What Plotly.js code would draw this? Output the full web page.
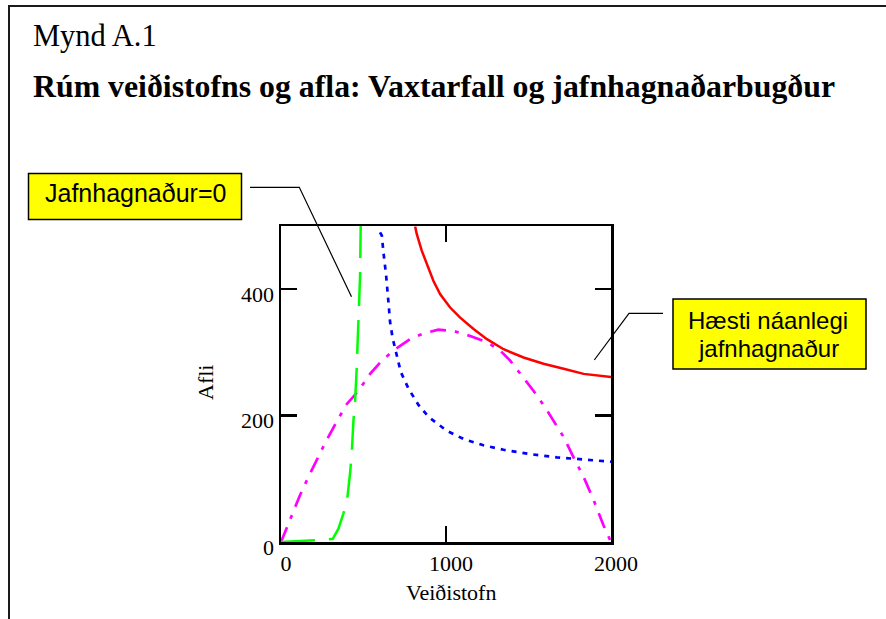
<!DOCTYPE html>
<html>
<head>
<meta charset="utf-8">
<script src="https://cdn.plot.ly/plotly-3.0.1.min.js"></script>
<style>
  html, body { margin: 0; padding: 0; background: #ffffff; }
  #chart { width: 886px; height: 619px; }
</style>
</head>
<body>
<div id="chart"></div>
<script>
// ---- Data ----
// Vaxtarfall (growth function), magenta dash-dot
const growthStock = [0, 24, 65, 115, 166, 218, 272, 330, 398, 469, 540, 611, 692, 783, 863, 954, 1045, 1147, 1248, 1328, 1389, 1460, 1531, 1601, 1662, 1713, 1773, 1834, 1895, 1955, 2000];
const growthCatch = [0, 16, 42, 74, 103, 131, 159, 187, 218, 239, 266, 287, 305, 321, 330, 336, 334, 326, 316, 303, 287, 263, 239, 213, 187, 166, 134, 103, 66, 26, 0];

// Jafnhagnaður=0 (zero-profit curve), green long dash
const zeroStock = [0, 100, 226, 314, 348, 378, 400, 419, 429, 439, 449, 458, 466, 474, 479, 483];
const zeroCatch = [0, 1, 3, 5, 21, 45, 65, 110, 142, 192, 223, 270, 320, 370, 420, 500];

// Intermediate profit curve, blue dotted
const midStock = [600, 611, 621, 637, 651, 661, 677, 702, 726, 772, 833, 894, 1005, 1106, 1227, 1349, 1510, 1672, 1834, 2000];
const midCatch = [490, 485, 458, 422, 380, 348, 322, 296, 269, 243, 217, 198, 176, 163, 153, 146, 139, 134, 130, 127];

// Hæsti náanlegi jafnhagnaður (highest attainable), red solid
const maxStock = [813, 823, 853, 884, 924, 965, 1025, 1086, 1167, 1248, 1349, 1470, 1591, 1713, 1834, 2000];
const maxCatch = [499, 487, 461, 439, 413, 392, 371, 355, 337, 321, 305, 292, 282, 274, 266, 261];

// Axis ticks and texts
const xTickVals = [0, 1000, 2000];
const xTickText = ['0', '1000', '2000'];
const yTickVals = [0, 200, 400];
const yTickText = ['0', '200', '400'];
const figureLabel = 'Mynd A.1';
const chartTitle = 'Rúm veiðistofns og afla: Vaxtarfall og jafnhagnaðarbugður';
const xTitle = 'Veiðistofn';
const yTitle = 'Afli';
const zeroLabel = 'Jafnhagnaður=0';
const maxLabelLines = ['Hæsti náanlegi', 'jafnhagnaður'];

// ---- Layout helpers (pixel -> paper) ----
const L = 281, T = 226, W = 330, H = 316;
const FW = 886, FH = 619;
function px(x) { return (x - L) / W; }
function py(y) { return (T + H - y) / H; }

const serif = 'Liberation Serif, Times New Roman, serif';
const sans = 'Liberation Sans, Arial, sans-serif';

const traces = [
  { x: growthStock, y: growthCatch, type: 'scatter', mode: 'lines',
    line: { color: '#ff00ff', width: 2.7, dash: '16px,9px,4px,9px' }, hoverinfo: 'skip' },
  { x: midStock, y: midCatch, type: 'scatter', mode: 'lines',
    line: { color: '#0000ff', width: 2.7, dash: '5px,6px' }, hoverinfo: 'skip' },
  { x: maxStock, y: maxCatch, type: 'scatter', mode: 'lines',
    line: { color: '#ff0000', width: 2.5 }, hoverinfo: 'skip' },
  { x: zeroStock, y: zeroCatch, type: 'scatter', mode: 'lines',
    line: { color: '#00ff00', width: 2.5, dash: '34px,14px' }, hoverinfo: 'skip' }
];

const axisCommon = {
  showgrid: false, zeroline: false,
  showline: true, linecolor: '#000000', linewidth: 2.5, mirror: 'ticks',
  ticks: 'inside', ticklen: 16, tickwidth: 2.5, tickcolor: '#000000',
  tickfont: { family: serif, size: 22, color: '#000000' },
  fixedrange: true
};

const layout = {
  width: FW, height: FH,
  margin: { l: L, r: FW - L - W, t: T, b: FH - T - H, pad: 0 },
  paper_bgcolor: '#ffffff', plot_bgcolor: '#ffffff',
  showlegend: false,
  xaxis: Object.assign({}, axisCommon, {
    range: [0, 2000], tickvals: xTickVals, ticktext: xTickText,
    ticklabelshift: 5
  }),
  yaxis: Object.assign({}, axisCommon, {
    range: [0, 500], tickvals: yTickVals, ticktext: yTickText,
    ticklabelshift: 5
  }),
  shapes: [
    // outer figure frame
    { type: 'rect', xref: 'paper', yref: 'paper', x0: px(9), y0: py(6), x1: px(1000), y1: py(800),
      line: { color: '#1a1a1a', width: 2 }, fillcolor: 'rgba(0,0,0,0)', layer: 'below' },
    // label box 1
    { type: 'rect', xref: 'paper', yref: 'paper', x0: px(28.5), y0: py(173.5), x1: px(241.5), y1: py(219.5),
      line: { color: '#000000', width: 1.5 }, fillcolor: '#ffff00', layer: 'above' },
    // label box 2
    { type: 'rect', xref: 'paper', yref: 'paper', x0: px(673), y0: py(299), x1: px(866), y1: py(369),
      line: { color: '#000000', width: 1.5 }, fillcolor: '#ffff00', layer: 'above' },
    // leader 1
    { type: 'path', xref: 'paper', yref: 'paper',
      path: 'M ' + px(250) + ',' + py(187.3) + ' L ' + px(299.3) + ',' + py(187.3) + ' L ' + px(351.5) + ',' + py(296.7),
      line: { color: '#000000', width: 1.2 }, layer: 'above' },
    // leader 2
    { type: 'path', xref: 'paper', yref: 'paper',
      path: 'M ' + px(663) + ',' + py(313.3) + ' L ' + px(629) + ',' + py(313.3) + ' L ' + px(594.3) + ',' + py(360),
      line: { color: '#000000', width: 1.2 }, layer: 'above' }
  ],
  annotations: [
    { text: figureLabel, xref: 'paper', yref: 'paper', x: px(31), y: py(36), xanchor: 'left', yanchor: 'middle',
      showarrow: false, font: { family: serif, size: 30.5, color: '#000000' } },
    { text: '<b>' + chartTitle + '</b>', xref: 'paper', yref: 'paper', x: px(31), y: py(86.5), xanchor: 'left', yanchor: 'middle',
      showarrow: false, font: { family: serif, size: 31.8, color: '#000000' } },
    { text: xTitle, xref: 'paper', yref: 'paper', x: px(451), y: py(592), xanchor: 'center', yanchor: 'middle',
      showarrow: false, font: { family: serif, size: 22, color: '#000000' } },
    { text: yTitle, xref: 'paper', yref: 'paper', x: px(205), y: py(383), xanchor: 'center', yanchor: 'middle',
      textangle: -90, showarrow: false, font: { family: serif, size: 22, color: '#000000' } },
    { text: zeroLabel, xref: 'paper', yref: 'paper', x: px(135), y: py(192.5), xanchor: 'center', yanchor: 'middle',
      showarrow: false, font: { family: sans, size: 25, color: '#000000' } },
    { text: maxLabelLines[0], xref: 'paper', yref: 'paper', x: px(768), y: py(320), xanchor: 'center', yanchor: 'middle',
      showarrow: false, font: { family: sans, size: 24, color: '#000000' } },
    { text: maxLabelLines[1], xref: 'paper', yref: 'paper', x: px(768), y: py(348), xanchor: 'center', yanchor: 'middle',
      showarrow: false, font: { family: sans, size: 24, color: '#000000' } }
  ]
};

Plotly.newPlot('chart', traces, layout, { staticPlot: true, displayModeBar: false });
</script>
</body>
</html>
